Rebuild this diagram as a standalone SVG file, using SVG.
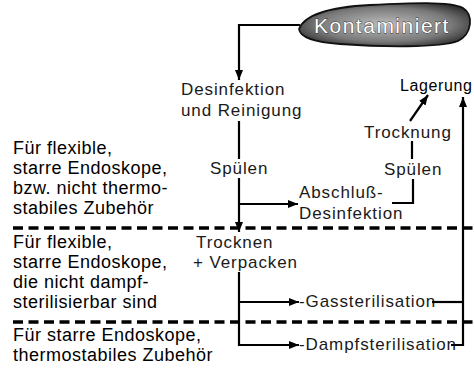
<svg xmlns="http://www.w3.org/2000/svg" width="474" height="371" viewBox="0 0 474 371">
<style>
.lt{font-family:"Liberation Sans",Arial,sans-serif;font-size:18px;letter-spacing:0.5px;fill:#000}
.ct{font-family:"Liberation Sans",Arial,sans-serif;font-size:17px;letter-spacing:0.9px;fill:#1a1a1a}
.ln{fill:none;stroke:#000;stroke-width:2.2}
.dash{fill:none;stroke:#000;stroke-width:3.5;stroke-dasharray:10 5.5}
</style>
<defs>
<marker id="ah" viewBox="0 0 10 8" refX="10" refY="4" markerWidth="10" markerHeight="8" markerUnits="userSpaceOnUse" orient="auto">
<path d="M0,0 L10,4 L0,8 Z" fill="#000"/>
</marker>
<radialGradient id="bg" cx="0.5" cy="0.5" r="0.6">
<stop offset="0" stop-color="#bdbdbd"/>
<stop offset="0.65" stop-color="#7a7a7a"/>
<stop offset="1" stop-color="#2a2a2a"/>
</radialGradient>
</defs>
<rect width="474" height="371" fill="#fff"/>
<g id="separators">
<line class="dash" x1="13" y1="228" x2="474" y2="228"/>
<line class="dash" x1="13" y1="322" x2="474" y2="322"/>
</g>
<g id="labels-left">
<text class="lt" x="13" y="154">Für flexible,</text>
<text class="lt" x="13" y="174">starre Endoskope,</text>
<text class="lt" x="13" y="194">bzw. nicht thermo-</text>
<text class="lt" x="13" y="214">stabiles Zubehör</text>
<text class="lt" x="13" y="248">Für flexible,</text>
<text class="lt" x="13" y="268">starre Endoskope,</text>
<text class="lt" x="13" y="288">die nicht dampf-</text>
<text class="lt" x="13" y="308">sterilisierbar sind</text>
<text class="lt" x="13" y="341">Für starre Endoskope,</text>
<text class="lt" x="13" y="361">thermostabiles Zubehör</text>
</g>
<g id="kontaminiert">
<path d="M299,29 C305,14 330,7 370,5 C410,3 450,1 463,8 C474,15 472,34 458,41 C440,48 380,47 340,44 C315,42 300,38 299,29 Z" fill="url(#bg)" stroke="#111" stroke-width="1.8"/>
<text x="314" y="33" font-family="'Liberation Sans',Arial,sans-serif" font-size="21" letter-spacing="1.5" fill="#fff" stroke="#333" stroke-width="0.8" paint-order="stroke">Kontaminiert</text>
</g>
<g id="desinfektion">
<text class="ct" x="181" y="95">Desinfektion</text>
<text class="ct" x="181" y="116">und Reinigung</text>
</g>
<g id="spuelen1"><text class="ct" x="210" y="174">Spülen</text></g>
<g id="abschluss">
<text class="ct" x="299" y="198">Abschluß-</text>
<text class="ct" x="299" y="219">Desinfektion</text>
</g>
<g id="spuelen2"><text class="ct" x="384" y="175">Spülen</text></g>
<g id="trocknung"><text class="ct" x="364" y="138">Trocknung</text></g>
<g id="lagerung"><text x="400" y="91" font-family="'Liberation Sans',Arial,sans-serif" font-size="16" letter-spacing="0.6" fill="#000">Lagerung</text></g>
<g id="trocknen">
<text class="ct" x="196" y="248">Trocknen</text>
<text class="ct" x="193" y="268">+ Verpacken</text>
</g>
<g id="gas"><text class="ct" x="299" y="307">-Gassterilisation</text></g>
<g id="dampf"><text class="ct" x="299" y="350">-Dampfsterilisation</text></g>
<g id="connectors">
<path class="ln" d="M300,25 H239 V80" marker-end="url(#ah)"/>
<path class="ln" d="M239,121 V159"/>
<path class="ln" d="M239,178 V232" marker-end="url(#ah)"/>
<path class="ln" d="M239,204 H298" marker-end="url(#ah)"/>
<path class="ln" d="M392,203 H413 V179"/>
<path class="ln" d="M412,159 V141"/>
<path class="ln" d="M410,121 L428,95" marker-end="url(#ah)"/>
<path class="ln" d="M239,272 V345 H299" marker-end="url(#ah)"/>
<path class="ln" d="M239,302 H299" marker-end="url(#ah)"/>
<path class="ln" d="M432,302 H463"/>
<path class="ln" d="M451,345 H463 V97" marker-end="url(#ah)"/>
</g>
</svg>
